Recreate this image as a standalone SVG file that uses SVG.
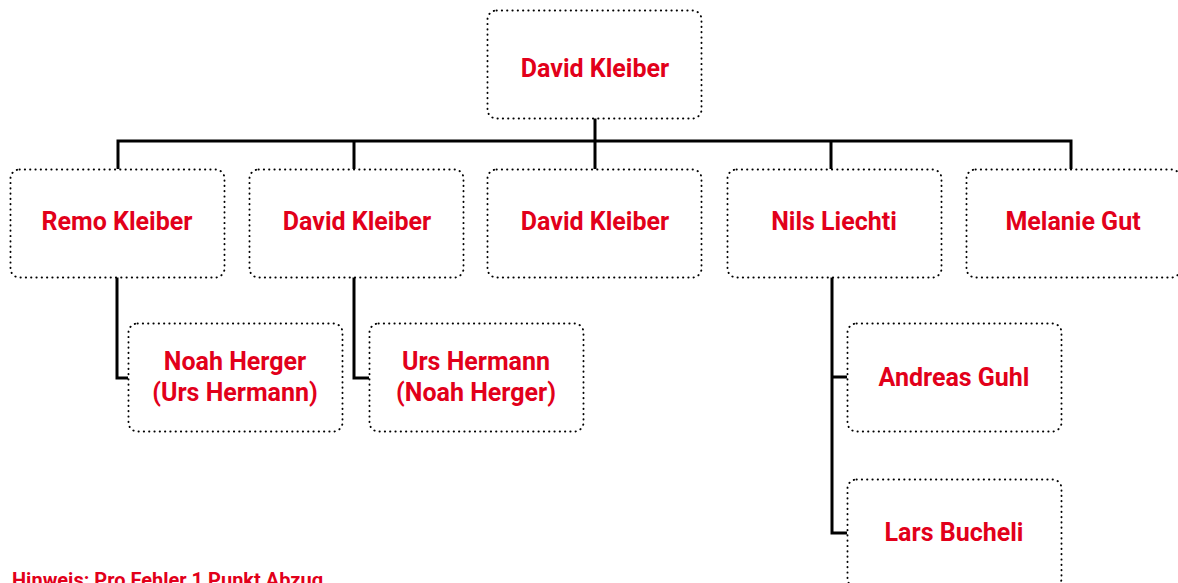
<svg xmlns="http://www.w3.org/2000/svg" width="1178" height="583" viewBox="0 0 1178 583">
<style>
.box{fill:#fff;stroke:#000;stroke-width:1.9;stroke-dasharray:0.3 5;stroke-linecap:round;}
.t{font-family:Roboto,"Liberation Sans",sans-serif;font-weight:bold;font-size:25px;fill:#e2001a;text-anchor:middle;}
.c{fill:none;stroke:#000;stroke-width:3;}
</style>
<rect width="1178" height="583" fill="#fff"/>
<g id="connectors">
<path class="c" d="M595 118V169M118 169V141H1071V169M354 141V169M831 141V169"/>
<path class="c" d="M117 277V378H128"/>
<path class="c" d="M354 277V378H369"/>
<path class="c" d="M832 277V533H847M832 377H847"/>
</g>
<g id="n0"><rect class="box" x="487.5" y="10.5" width="214" height="108" rx="9"/><text class="t" x="595" y="77">David Kleiber</text></g>
<g id="n1"><rect class="box" x="10.5" y="169.5" width="214" height="108" rx="9"/><text class="t" x="117" y="230">Remo Kleiber</text></g>
<g id="n2"><rect class="box" x="249.5" y="169.5" width="214" height="108" rx="9"/><text class="t" x="357" y="230">David Kleiber</text></g>
<g id="n3"><rect class="box" x="487.5" y="169.5" width="214" height="108" rx="9"/><text class="t" x="595" y="230">David Kleiber</text></g>
<g id="n4"><rect class="box" x="727.5" y="169.5" width="214" height="108" rx="9"/><text class="t" x="834" y="230">Nils Liechti</text></g>
<g id="n5"><rect class="box" x="966.5" y="169.5" width="214" height="108" rx="9"/><text class="t" x="1073" y="230">Melanie Gut</text></g>
<g id="n6"><rect class="box" x="128.5" y="323.5" width="214" height="108" rx="9"/><text class="t" x="235" y="370">Noah Herger</text><text class="t" x="235" y="401">(Urs Hermann)</text></g>
<g id="n7"><rect class="box" x="369.5" y="323.5" width="214" height="108" rx="9"/><text class="t" x="476" y="370">Urs Hermann</text><text class="t" x="476" y="401">(Noah Herger)</text></g>
<g id="n8"><rect class="box" x="847.5" y="323.5" width="214" height="108" rx="9"/><text class="t" x="954" y="386">Andreas Guhl</text></g>
<g id="n9"><rect class="box" x="847.5" y="479.5" width="214" height="108" rx="9"/><text class="t" x="954" y="541">Lars Bucheli</text></g>
<text x="12" y="587" style="font-family:Roboto,'Liberation Sans',sans-serif;font-weight:bold;font-size:20px;fill:#e2001a;">Hinweis: Pro Fehler 1 Punkt Abzug</text>
</svg>
